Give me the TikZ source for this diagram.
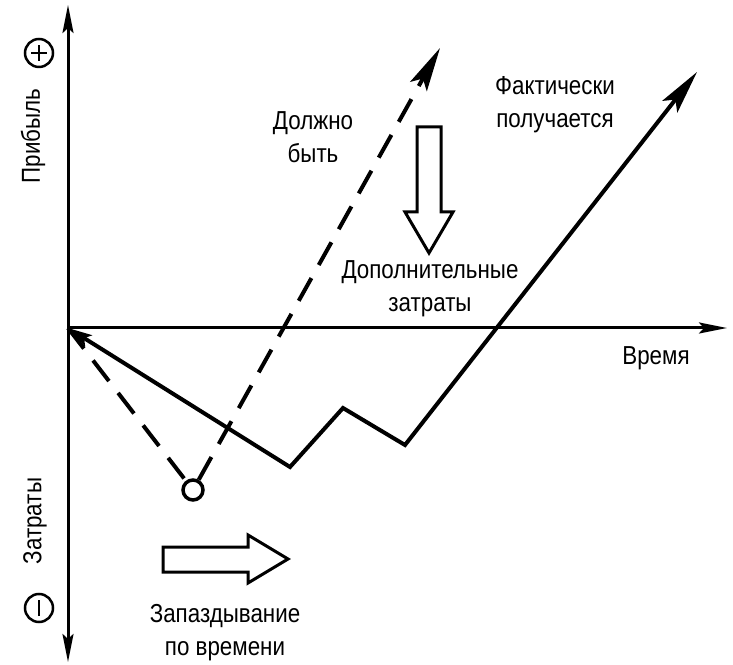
\documentclass[tikz,border=0pt]{standalone}
\usepackage{fontspec}
\setmainfont[FakeStretch=0.86]{Liberation Sans}
\usepackage{tikz}
\usetikzlibrary{arrows.meta,positioning,calc}

\begin{document}
\begin{tikzpicture}[
    x=1pt, y=1pt,
    tipA/.tip={Stealth[length=28pt,width=11pt,inset=5pt]},
    tipB/.tip={Stealth[length=44pt,width=19pt,inset=9pt]},
    tipC/.tip={Stealth[length=24pt,width=13pt,inset=5pt]},
    axisline/.style={line width=3pt},
    actual/.style={line width=4pt, line join=miter},
    plan/.style={line width=4pt, dash pattern=on 26pt off 15pt},
    txt/.style={font=\fontsize{26}{33}\selectfont, align=center, inner sep=0pt},
    sign/.style={circle, draw, line width=2.5pt, minimum size=28pt, inner sep=0pt},
    signbar/.style={line width=2.5pt},
    block/.style={draw, line width=3pt, line join=miter}
]
    \useasboundingbox (0,0) rectangle (733,664);

    % axes
    \coordinate (origin) at (68,336);
    \coordinate (ybot) at (68,2);
    \coordinate (ytop) at (68,659);
    \coordinate (xend) at (727,336);
    \draw[axisline, tipA-tipA] (ybot) -- (ytop);
    \draw[axisline, -tipA] (origin) -- (xend);

    \node[txt, rotate=90] (profit) at (33,528) {Прибыль};
    \node[sign] (plus) at (39,611) {};
    \draw[signbar] (plus.center) ++(-8,0) -- ++(16,0) (plus.center) ++(0,-8) -- ++(0,16);
    \node[txt, rotate=90] (costs) at (35,143) {Затраты};
    \node[sign] (minus) at (39,56) {};
    \draw[signbar] (minus.center) ++(0,-8) -- ++(0,16);
    \node[txt] (time) at (656,306) {Время};

    % planned course
    \node[circle, draw, line width=3.5pt, minimum size=20pt, inner sep=0pt] (late) at (193,174) {};
    \coordinate (planend) at (440,616);
    \draw[plan] (origin) -- (late);
    \draw[plan, -tipB] (late) -- (planend);
    \node[txt] (should) at (313,527) {Должно\\быть};

    % actual course
    \coordinate (low1) at (290,197);
    \coordinate (peak) at (343,256);
    \coordinate (low2) at (405,219);
    \coordinate (actualend) at (697,592);
    \draw[actual, tipC-tipB] (origin) -- (low1) -- (peak) -- (low2) -- (actualend);
    \node[txt] (fact) at (555,559) {Фактически\\получается};

    % block arrows
    \draw[block] (417,537) -- (441,537) -- (441,452) -- (453,452) -- (429,411)
        -- (405,452) -- (417,452) -- cycle;
    \node[txt] (extra) at (430,375) {Дополнительные\\затраты};
    \draw[block] (163,117) -- (248,117) -- (248,129) -- (288,105) -- (248,81)
        -- (248,92) -- (163,92) -- cycle;
    \node[txt] (delay) at (225,31) {Запаздывание\\по времени};
\end{tikzpicture}
\end{document}
